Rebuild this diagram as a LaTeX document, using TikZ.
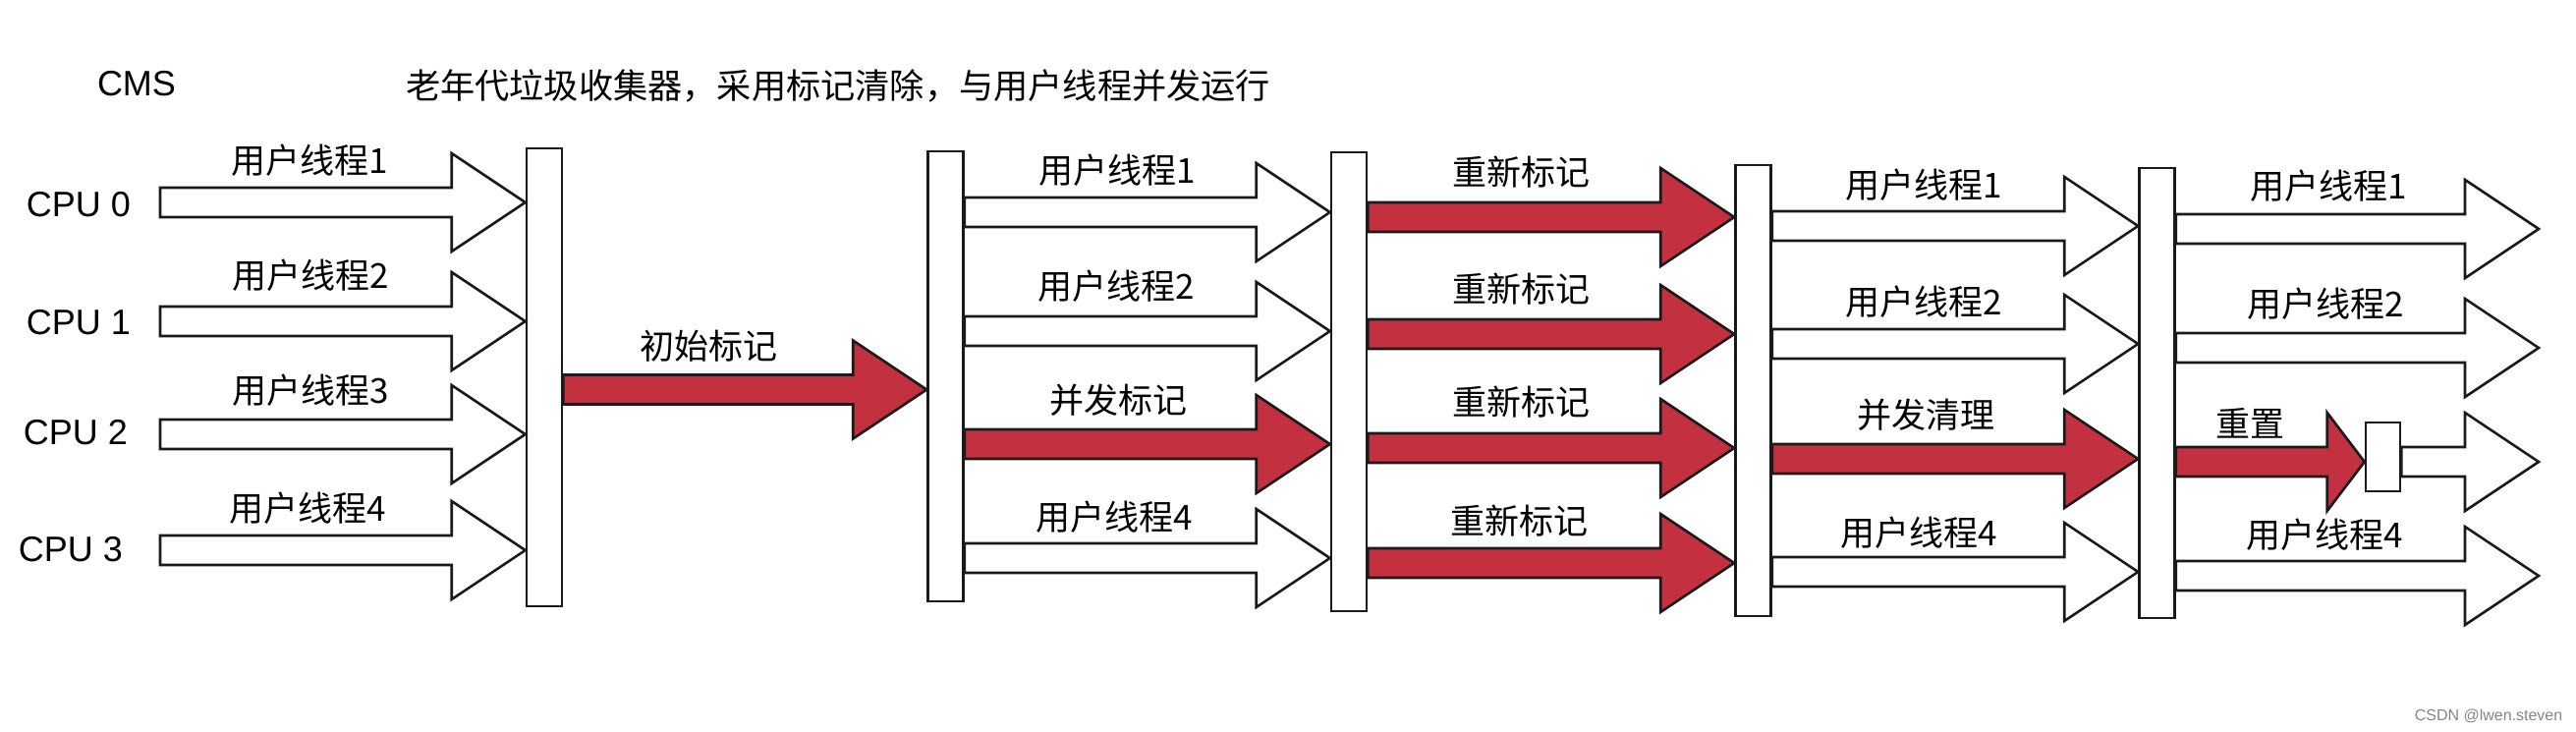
\documentclass[tikz,border=0pt]{standalone}
\usepackage{fontspec}
\setmainfont{Liberation Sans}
\newfontfamily\cjk{Noto Sans CJK SC}
\usepackage{xcolor}
\definecolor{markRed}{HTML}{C3303F}
\definecolor{lineDark}{HTML}{1A1A1A}
\definecolor{noteGray}{HTML}{858585}
\usepackage{tikz}
\usetikzlibrary{calc}
\tikzset{
    % Latin text (CMS, CPU rows)
    cpu label/.style={
        font=\fontsize{18pt}{20pt}\selectfont,
        inner sep=0pt,
        text=black,
    },
    % Chinese text above the arrows
    thread label/.style={
        font=\cjk\fontsize{17.5pt}{20pt}\selectfont,
        inner sep=0pt,
        text=black,
    },
    % Safepoint bars between the phases
    phase bar/.style={
        rectangle,
        draw=lineDark,
        line width=1.3pt,
        fill=white,
        inner sep=0pt,
        minimum width=18pt,
    },
    % White block arrow - user thread
    user arrow/.style={
        draw=lineDark,
        line width=1.3pt,
        fill=white,
        line join=miter,
    },
    % Red block arrow - collector work
    gc arrow/.style={
        user arrow,
        fill=markRed,
    },
}
% block arrow from a tail point to a tip point (same height)
\newcommand{\blockarrow}[4][37.5pt]{%
    \draw[#2] let \p1=#3, \p2=#4 in
        ({\x1},{\y2+7.5pt}) -- ({\x2-#1},{\y2+7.5pt}) -- ({\x2-#1},{\y2+25pt})
        -- ({\x2},{\y2}) -- ({\x2-#1},{\y2-25pt}) -- ({\x2-#1},{\y2-7.5pt})
        -- ({\x1},{\y2-7.5pt}) -- cycle;}

\begin{document}
\begin{tikzpicture}[x=0.5pt, y=-0.5pt]
    \useasboundingbox (0,0) rectangle (2622,744);

    \node (cms) [cpu label] at (139,85) {CMS};
    \node (title) [thread label, font=\cjk\fontsize{17.6pt}{20pt}\selectfont] at (853,87) {老年代垃圾收集器，采用标记清除，与用户线程并发运行};

    \node (cpu0) [cpu label] at (80,208) {CPU 0};
    \node (cpu1) [cpu label] at (80,328) {CPU 1};
    \node (cpu2) [cpu label] at (77,440) {CPU 2};
    \node (cpu3) [cpu label] at (72,559) {CPU 3};

    \node (bar1) [phase bar, minimum height=233pt] at (554,384) {};
    \node (bar2) [phase bar, minimum height=229pt] at (962.5,383) {};
    \node (bar3) [phase bar, minimum height=233.5pt] at (1373,388.5) {};
    \node (bar4) [phase bar, minimum height=229.5pt] at (1784.5,397.5) {};
    \node (bar5) [phase bar, minimum height=229pt] at (2195.5,400) {};

    \coordinate (s1r0) at (163,206);
    \coordinate (s1r1) at (163,327);
    \coordinate (s1r2) at (163,442);
    \coordinate (s1r3) at (163,560);
    \blockarrow{user arrow}{(s1r0)}{(bar1.west |- s1r0)}
    \blockarrow{user arrow}{(s1r1)}{(bar1.west |- s1r1)}
    \blockarrow{user arrow}{(s1r2)}{(bar1.west |- s1r2)}
    \blockarrow{user arrow}{(s1r3)}{(bar1.west |- s1r3)}
    \node (l10) [thread label] at (315,163) {用户线程1};
    \node (l11) [thread label] at (316,280) {用户线程2};
    \node (l12) [thread label] at (316,397) {用户线程3};
    \node (l13) [thread label] at (313,517) {用户线程4};

    \coordinate (s2r0) at (0,396.5);
    \blockarrow{gc arrow}{(bar1.east |- s2r0)}{(bar2.west |- s2r0)}
    \node (l20) [thread label] at (721,352) {初始标记};

    \coordinate (s3r0) at (0,216);
    \coordinate (s3r1) at (0,337);
    \coordinate (s3r2) at (0,452);
    \coordinate (s3r3) at (0,568);
    \blockarrow{user arrow}{(bar2.east |- s3r0)}{(bar3.west |- s3r0)}
    \blockarrow{user arrow}{(bar2.east |- s3r1)}{(bar3.west |- s3r1)}
    \blockarrow{gc arrow}{(bar2.east |- s3r2)}{(bar3.west |- s3r2)}
    \blockarrow{user arrow}{(bar2.east |- s3r3)}{(bar3.west |- s3r3)}
    \node (l30) [thread label] at (1137,173) {用户线程1};
    \node (l31) [thread label] at (1136,291) {用户线程2};
    \node (l32) [thread label] at (1138,407) {并发标记};
    \node (l33) [thread label] at (1134,526) {用户线程4};

    \coordinate (s4r0) at (0,221);
    \coordinate (s4r1) at (0,340);
    \coordinate (s4r2) at (0,456);
    \coordinate (s4r3) at (0,573);
    \blockarrow{gc arrow}{(bar3.east |- s4r0)}{(bar4.west |- s4r0)}
    \blockarrow{gc arrow}{(bar3.east |- s4r1)}{(bar4.west |- s4r1)}
    \blockarrow{gc arrow}{(bar3.east |- s4r2)}{(bar4.west |- s4r2)}
    \blockarrow{gc arrow}{(bar3.east |- s4r3)}{(bar4.west |- s4r3)}
    \node (l40) [thread label] at (1548,175) {重新标记};
    \node (l41) [thread label] at (1548,294) {重新标记};
    \node (l42) [thread label] at (1548,409) {重新标记};
    \node (l43) [thread label] at (1546,530) {重新标记};

    \coordinate (s5r0) at (0,230);
    \coordinate (s5r1) at (0,350);
    \coordinate (s5r2) at (0,467);
    \coordinate (s5r3) at (0,582);
    \blockarrow{user arrow}{(bar4.east |- s5r0)}{(bar5.west |- s5r0)}
    \blockarrow{user arrow}{(bar4.east |- s5r1)}{(bar5.west |- s5r1)}
    \blockarrow{gc arrow}{(bar4.east |- s5r2)}{(bar5.west |- s5r2)}
    \blockarrow{user arrow}{(bar4.east |- s5r3)}{(bar5.west |- s5r3)}
    \node (l50) [thread label] at (1958,188) {用户线程1};
    \node (l51) [thread label] at (1958,307) {用户线程2};
    \node (l52) [thread label] at (1960,422) {并发清理};
    \node (l53) [thread label] at (1953,542) {用户线程4};

    \coordinate (s6r0) at (2584,233);
    \coordinate (s6r1) at (2584,354);
    \coordinate (s6r2) at (2584,470);
    \coordinate (s6r3) at (2584,586);
    \node (reset) [phase bar, minimum width=17.5pt, minimum height=35pt] at (2425.5,465) {};
    \blockarrow{user arrow}{(bar5.east |- s6r0)}{(s6r0)}
    \blockarrow{user arrow}{(bar5.east |- s6r1)}{(s6r1)}
    \blockarrow{user arrow}{(reset.east |- s6r2)}{(s6r2)}
    \blockarrow{user arrow}{(bar5.east |- s6r3)}{(s6r3)}
    \blockarrow[19pt]{gc arrow}{(bar5.east |- s6r2)}{(reset.west |- s6r2)}
    \node (l60) [thread label] at (2370,189) {用户线程1};
    \node (l61) [thread label] at (2367,309) {用户线程2};
    \node (l62) [thread label] at (2290,431) {重置};
    \node (l63) [thread label] at (2366,544) {用户线程4};

    \node (csdn) [font=\fontsize{8pt}{9pt}\selectfont, text=noteGray, inner sep=0pt] at (2533,729) {CSDN @lwen.steven};
\end{tikzpicture}
\end{document}
